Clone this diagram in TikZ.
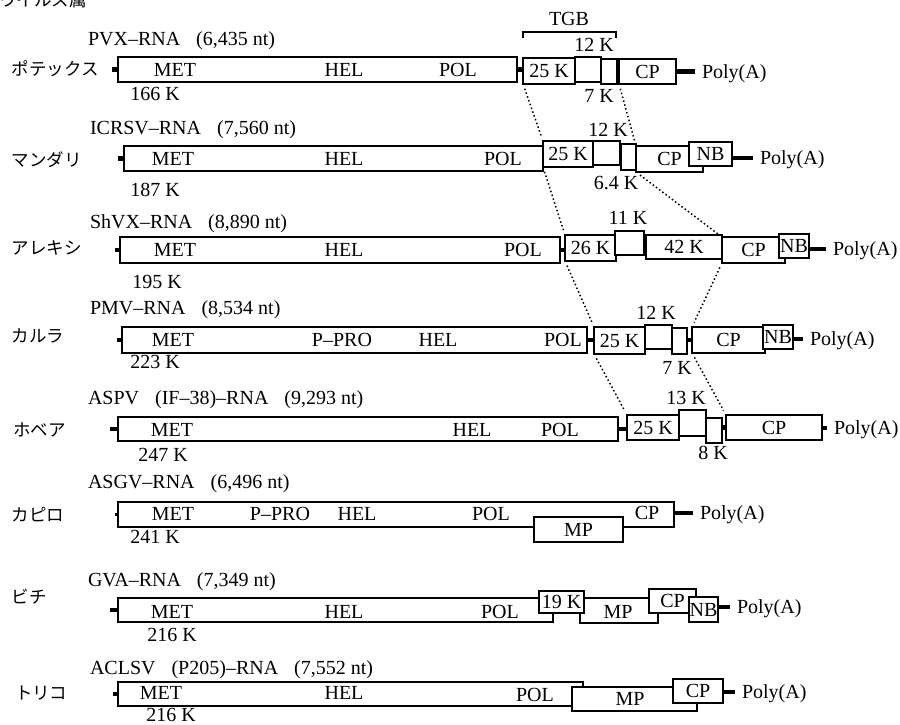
\documentclass[tikz,border=0pt]{standalone}
\usepackage{fontspec}
\setmainfont{Liberation Serif}
\newfontfamily\jpfont{Noto Sans CJK JP}
\usetikzlibrary{calc}
\tikzset{
  txt/.style={inner sep=0pt, outer sep=0pt, font=\fontsize{20}{24}\selectfont, text height=13pt, text depth=0pt},
  lab/.style={txt, anchor=west},
  jp/.style={inner sep=0pt, outer sep=0pt, anchor=west, font=\jpfont\fontsize{17.5}{20}\selectfont, text height=15.4pt, text depth=2.1pt},
  gb/.style={txt, draw, fill=white, line width=1.5pt, anchor=north west},
  lead/.style={line width=4.5pt},
  polylead/.style={line width=4.5pt, shorten >=7pt},
  dot/.style={line width=1.5pt, dash pattern=on 1.5pt off 2.5pt, shorten <=5pt, shorten >=5pt},
  brk/.style={line width=1.5pt}
}
\newcommand\gbox[6]{\node[gb, minimum width={(#4-#2)*1pt}, minimum height={(#5-#3)*1pt}] (#1) at (#2,#3) {#6};}
\newcommand\gp{\hspace{0.8em}}
\begin{document}
\begin{tikzpicture}[x=1pt,y=-1pt]
\useasboundingbox (0,0) rectangle (900,724);
\fill[white] (0,0) rectangle (900,724);
\node[jp] (title) at (-1,-0.6) {ウイルス属};

% ---------- Row 1 : PVX ----------
\node[lab] (l1) at (88,39) {PVX–RNA\gp(6,435 nt)};
\node[jp] (j1) at (12,69) {ポテックス};
\coordinate (s1) at (112,69.5);
\gbox{m1}{118}{57}{517}{82}{}
\gbox{a1}{523}{58}{575}{84}{25 K}
\gbox{b1}{575}{57}{601}{82}{}
\gbox{c1}{601}{59}{617}{84}{}
\gbox{cp1}{619}{59}{676}{84}{CP}
\draw[lead] (s1) -- (m1.west);
\draw[lead] (m1.east) -- (m1.east -| a1.west);
\draw[lead] (c1.east) -- (c1.east -| cp1.west);
\node[lab] (pa1) at (702,71.5) {Poly(A)};
\draw[polylead] (cp1.east) -- (pa1.west);
\node[txt] (met1) at (175,70) {MET};
\node[txt] (hel1) at (344,70) {HEL};
\node[txt] (pol1) at (458,70) {POL};
\node[txt] (k1) at (155,94) {166 K};
\node[txt] (b1l) at (594,45) {12 K};
\node[txt] (c1l) at (599,96) {7 K};
\coordinate (t1) at (523,38);
\coordinate (t2) at (616,38);
\draw[brk] (t1) -- ++(0,-6) -| (t2);
\node[txt] (tgb) at (569,19) {TGB};

% ---------- Row 2 : ICRSV ----------
\node[lab] (l2) at (90,128) {ICRSV–RNA\gp(7,560 nt)};
\node[jp] (j2) at (12,160) {マンダリ};
\coordinate (s2) at (118,158.5);
\gbox{m2}{124}{146}{543}{171}{}
\gbox{a2}{543}{141}{593}{167}{25 K}
\gbox{b2}{593}{141}{620}{165}{}
\gbox{c2}{621}{144}{636}{170}{}
\gbox{cp2}{636}{146}{703}{172}{CP}
\gbox{nb2}{689}{142}{732}{166}{NB}
\draw[lead] (s2) -- (m2.west);
\node[lab] (pa2) at (760,158) {Poly(A)};
\draw[polylead] (nb2.east |- pa2.west) -- (pa2.west);
\node[txt] (met2) at (173,159) {MET};
\node[txt] (hel2) at (344,159) {HEL};
\node[txt] (pol2) at (503,159) {POL};
\node[txt] (k2) at (155,190) {187 K};
\node[txt] (b2l) at (608,130) {12 K};
\node[txt] (c2l) at (616,183) {6.4 K};

% ---------- Row 3 : ShVX ----------
\node[lab] (l3) at (90,222) {ShVX–RNA\gp(8,890 nt)};
\node[jp] (j3) at (12,248) {アレキシ};
\coordinate (s3) at (115,250);
\gbox{m3}{120}{237}{560}{263}{}
\gbox{a3}{565}{235}{616}{261}{26 K}
\gbox{b3}{615}{231}{644}{255}{}
\gbox{c3}{646}{235}{722}{259}{42 K}
\gbox{cp3}{722}{237}{785}{263}{CP}
\gbox{nb3}{779}{234}{809}{258}{NB}
\draw[lead] (s3) -- (m3.west);
\draw[lead] (m3.east) -- (m3.east -| a3.west);
\draw[lead] (b3.east |- c3.west) -- (c3.west);
\node[lab] (pa3) at (833,249) {Poly(A)};
\draw[polylead] (nb3.east |- pa3.west) -- (pa3.west);
\node[txt] (met3) at (175,250) {MET};
\node[txt] (hel3) at (344,250) {HEL};
\node[txt] (pol3) at (523,250) {POL};
\node[txt] (k3) at (157,282) {195 K};
\node[txt] (b3l) at (628,218) {11 K};

% ---------- Row 4 : PMV ----------
\node[lab] (l4) at (90,308) {PMV–RNA\gp(8,534 nt)};
\node[jp] (j4) at (12,336) {カルラ};
\coordinate (s4) at (117,340);
\gbox{m4}{122}{327}{587}{353}{}
\gbox{a4}{594}{327}{645}{354}{25 K}
\gbox{b4}{645}{325}{672}{349}{}
\gbox{c4}{672}{328}{687}{354}{}
\gbox{cp4}{692}{327}{765}{353}{CP}
\gbox{nb4}{763}{325}{793}{349}{NB}
\draw[lead] (s4) -- (m4.west);
\draw[lead] (m4.east) -- (m4.east -| a4.west);
\draw[lead] (c4.east |- cp4.west) -- (cp4.west);
\node[lab] (pa4) at (810,339) {Poly(A)};
\draw[polylead] (nb4.east |- pa4.west) -- (pa4.west);
\node[txt] (met4) at (173,340) {MET};
\node[txt] (pp4) at (342,340) {P–PRO};
\node[txt] (hel4) at (438,340) {HEL};
\node[txt] (pol4) at (563,340) {POL};
\node[txt] (k4) at (155,362) {223 K};
\node[txt] (b4l) at (656,313) {12 K};
\node[txt] (c4l) at (677,368) {7 K};

% ---------- Row 5 : ASPV ----------
\node[lab] (l5) at (88,398) {ASPV\gp(IF–38)–RNA\gp(9,293 nt)};
\node[jp] (j5) at (13,430) {ホベア};
\coordinate (s5) at (110,429);
\gbox{m5}{118}{417}{618}{441}{}
\gbox{a5}{627}{415}{679}{440}{25 K}
\gbox{b5}{679}{410}{706}{436}{}
\gbox{c5}{706}{418}{722}{443}{}
\gbox{cp5}{726}{415}{822}{440}{CP}
\draw[lead] (s5) -- (m5.west);
\draw[lead] (m5.east) -- (m5.east -| a5.west);
\draw[lead] (c5.east |- cp5.west) -- (cp5.west);
\node[lab] (pa5) at (834,428) {Poly(A)};
\draw[polylead] (cp5.east |- pa5.west) -- (pa5.west);
\node[txt] (met5) at (172,430) {MET};
\node[txt] (hel5) at (472,430) {HEL};
\node[txt] (pol5) at (560,430) {POL};
\node[txt] (k5) at (163,455) {247 K};
\node[txt] (b5l) at (686,398) {13 K};
\node[txt] (c5l) at (713,453) {8 K};

% ---------- Row 6 : ASGV ----------
\node[lab] (l6) at (88,482) {ASGV–RNA\gp(6,496 nt)};
\node[jp] (j6) at (12,515) {カピロ};
\coordinate (s6) at (115,514.5);
\gbox{m6}{118}{502}{674}{527}{}
\gbox{mp6}{534}{517}{623}{542}{MP}
\draw[line width=3pt] (s6) -- (m6.west);
\node[lab] (pa6) at (700,513) {Poly(A)};
\draw[polylead] (m6.east |- pa6.west) -- (pa6.west);
\node[txt] (met6) at (173,514) {MET};
\node[txt] (pp6) at (280,514) {P–PRO};
\node[txt] (hel6) at (357,514) {HEL};
\node[txt] (pol6) at (491,514) {POL};
\node[txt] (cpt6) at (647,513) {CP};
\node[txt] (k6) at (155,537) {241 K};

% ---------- Row 7 : GVA ----------
\node[lab] (l7) at (88,580) {GVA–RNA\gp(7,349 nt)};
\node[jp] (j7) at (12,597) {ビチ};
\coordinate (s7) at (110,610);
\gbox{m7}{118}{598}{553}{622}{}
\gbox{mp7}{580}{598}{658}{623}{}
\gbox{a7}{539}{591}{584}{613}{19 K}
\gbox{cp7}{649}{589}{696}{613}{CP}
\gbox{nb7}{689}{597}{718}{622}{NB}
\draw[lead] (s7) -- (m7.west);
\node[lab] (pa7) at (737,607) {Poly(A)};
\draw[polylead] (nb7.east |- pa7.west) -- (pa7.west);
\node[txt] (met7) at (172,612) {MET};
\node[txt] (hel7) at (344,612) {HEL};
\node[txt] (pol7) at (500,612) {POL};
\node[txt] (mpt7) at (618,612) {MP};
\node[txt] (k7) at (172,635) {216 K};

% ---------- Row 8 : ACLSV ----------
\node[lab] (l8) at (90,668) {ACLSV\gp(P205)–RNA\gp(7,552 nt)};
\node[jp] (j8) at (15,693) {トリコ};
\coordinate (s8) at (113,694);
\gbox{m8}{118}{682}{583}{706}{}
\gbox{mp8}{572}{687}{697}{711}{}
\gbox{cp8}{673}{679}{723}{703}{CP}
\draw[lead] (s8) -- (m8.west);
\node[lab] (pa8) at (742,692) {Poly(A)};
\draw[polylead] (cp8.east |- pa8.west) -- (pa8.west);
\node[txt] (met8) at (161,693) {MET};
\node[txt] (hel8) at (344,693) {HEL};
\node[txt] (pol8) at (535,695) {POL};
\node[txt] (mpt8) at (630,699) {MP};
\node[txt] (k8) at (171,715) {216 K};

% ---------- dotted correspondences ----------
\draw[dot] (a1.south west) -- (a2.north west);
\draw[dot] (cp1.south west) -- (cp2.north west);
\draw[dot] (a2.south west) -- (a3.north west);
\draw[dot] (cp2.south west) -- (cp3.north west);
\draw[dot] (a3.south west) -- (a4.north west);
\draw[dot] (cp3.south west) -- (cp4.north west);
\draw[dot] (a4.south west) -- (a5.north west);
\draw[dot] (cp4.south west) -- (cp5.north west);
\end{tikzpicture}
\end{document}
